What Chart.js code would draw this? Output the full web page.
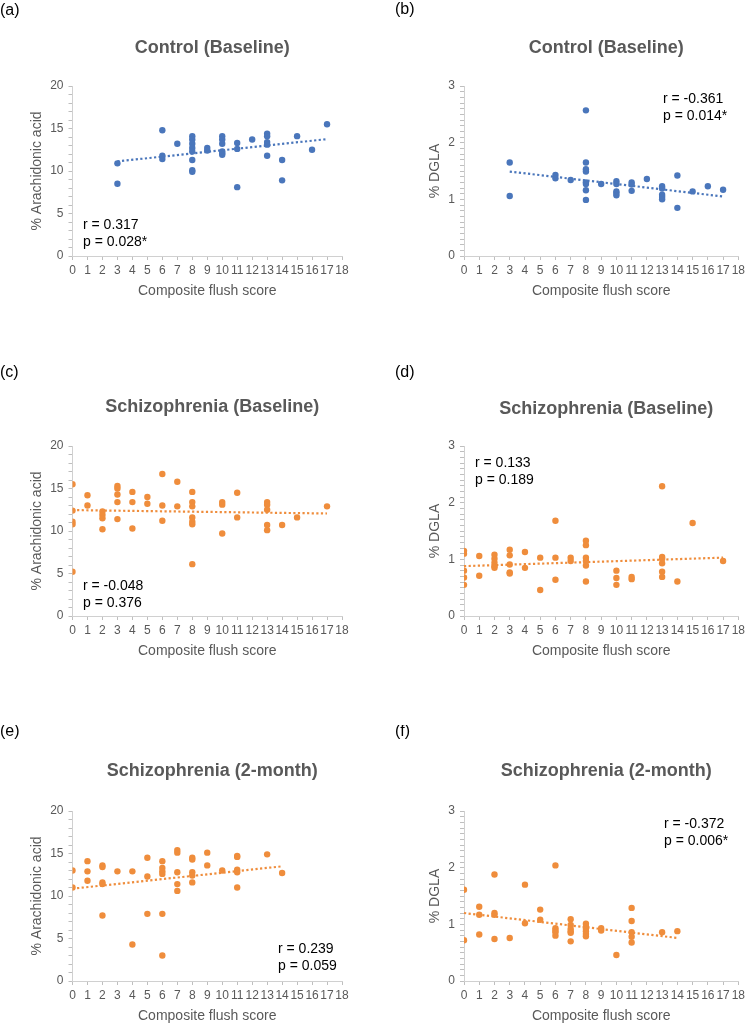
<!DOCTYPE html>
<html>
<head>
<meta charset="utf-8">
<script src="https://cdn.jsdelivr.net/npm/chart.js@4.4.1/dist/chart.umd.min.js"></script>
<style>
  html, body { margin: 0; padding: 0; background: #fff; overflow: hidden; }
  #wrap { position: relative; width: 748px; height: 1025px; }
  canvas { position: absolute; }
</style>
</head>
<body>
<div id="wrap">
  <canvas id="chartA" width="374" height="320" style="left:0;top:0"></canvas>
  <canvas id="chartB" width="374" height="320" style="left:374px;top:0"></canvas>
  <canvas id="chartC" width="374" height="320" style="left:0;top:360px"></canvas>
  <canvas id="chartD" width="374" height="320" style="left:374px;top:360px"></canvas>
  <canvas id="chartE" width="374" height="320" style="left:0;top:725px"></canvas>
  <canvas id="chartF" width="374" height="320" style="left:374px;top:725px"></canvas>
</div>
<script>
// (a) Control baseline, arachidonic acid
const aScore = [3,3,6,6,6,7,8,8,8,8,8,8,8,8,9,9,10,10,10,10,10,10,11,11,11,12,13,13,13,13,13,14,14,15,16,17];
const aValue = [10.9,8.5,14.8,11.8,11.4,13.2,14.1,13.7,13.2,12.7,12.3,11.3,10.1,9.9,12.7,12.4,14.1,13.7,13.2,12.3,12.1,11.9,13.3,12.6,8.1,13.7,14.4,14.1,13.4,13.1,11.8,11.3,8.9,14.1,12.5,15.5];
const aTrendX = [3, 17];
const aTrendY = [11.13, 13.75];

// (b) Control baseline, DGLA
const bScore = [3,3,6,6,7,8,8,8,8,8,8,8,8,9,10,10,10,10,10,11,11,11,12,13,13,13,13,13,14,14,15,16,17];
const bValue = [1.65,1.06,1.43,1.37,1.34,2.57,1.65,1.53,1.49,1.30,1.27,1.16,0.99,1.27,1.32,1.27,1.14,1.11,1.07,1.30,1.26,1.15,1.36,1.23,1.19,1.08,1.04,1.00,1.42,0.85,1.14,1.23,1.17];
const bTrendX = [3, 17];
const bTrendY = [1.49, 1.05];

// (c) Schizophrenia baseline, arachidonic acid
const cScore = [0,0,0,0,0,1,1,2,2,2,2,3,3,3,3,3,4,4,4,5,5,6,6,6,7,7,8,8,8,8,8,8,8,10,10,10,11,11,13,13,13,13,13,14,15,17];
const cValue = [15.5,12.4,11.1,10.8,5.2,14.2,13.0,12.3,11.9,11.5,10.2,15.3,15.0,14.3,13.4,11.4,14.6,13.4,10.3,14.0,13.2,16.7,13.0,11.2,15.8,12.9,14.6,13.4,12.9,11.6,11.1,10.8,6.1,13.4,13.1,9.7,14.5,11.6,13.4,13.1,12.5,10.7,10.1,10.7,11.6,12.9];
const cTrendX = [0, 17];
const cTrendY = [12.46, 12.06];

// (d) Schizophrenia baseline, DGLA
const dScore = [0,0,0,0,0,1,1,2,2,2,2,2,3,3,3,3,3,4,4,5,5,6,6,6,7,7,8,8,8,8,8,8,10,10,10,11,11,13,13,13,13,13,13,14,15,17];
const dValue = [1.15,1.10,0.80,0.68,0.55,1.06,0.71,1.08,1.01,0.94,0.88,0.85,1.17,1.07,0.91,0.77,0.75,1.13,0.85,1.03,0.46,1.68,1.03,0.64,1.03,0.97,1.33,1.25,1.03,0.97,0.89,0.61,0.80,0.67,0.55,0.69,0.65,2.29,1.04,1.01,0.93,0.78,0.69,0.61,1.64,0.97];
const dTrendX = [0, 17];
const dTrendY = [0.88, 1.03];

// (e) Schizophrenia 2-month, arachidonic acid
const eScore = [0,0,1,1,1,2,2,2,2,2,3,4,4,5,5,5,6,6,6,6,6,6,7,7,7,7,7,8,8,8,8,8,9,9,10,11,11,11,11,11,13,14];
const eValue = [13.0,11.0,14.1,12.9,11.8,13.6,13.4,11.6,11.4,7.7,12.9,12.9,4.3,14.5,12.3,7.9,14.1,13.3,12.9,12.6,7.9,3.0,15.4,15.1,12.8,11.4,10.6,14.5,14.3,12.8,12.4,11.6,15.1,13.6,13.0,14.7,14.6,13.1,12.8,11.0,14.9,12.7];
const eTrendX = [0, 14];
const eTrendY = [10.86, 13.49];

// (f) Schizophrenia 2-month, DGLA
const fScore = [0,0,1,1,1,2,2,2,2,3,4,4,5,5,6,6,6,6,6,7,7,7,7,7,7,8,8,8,8,8,8,9,9,10,11,11,11,11,11,13,14];
const fValue = [1.61,0.72,1.31,1.17,0.82,1.88,1.20,1.17,0.74,0.76,1.70,1.02,1.26,1.08,2.04,0.93,0.89,0.86,0.80,1.09,0.99,0.92,0.88,0.85,0.70,1.01,0.96,0.92,0.88,0.83,0.79,0.93,0.89,0.46,1.29,1.06,0.86,0.78,0.68,0.86,0.88];
const fTrendX = [0, 14];
const fTrendY = [1.20, 0.76];

const BLUE = "#4a76bb";
const ORANGE = "#ef8d3c";
const GREY = "#595959";
const AXIS = "#bfbfbf";
const FONT = "'Liberation Sans', Arial, sans-serif";

// draws panel letter, chart heading and the r / p text box
const textPlugin = {
  id: "panelText",
  afterDraw(chart, args, opts) {
    const ctx = chart.ctx;
    const area = chart.chartArea;
    ctx.save();
    ctx.textBaseline = "middle";
    ctx.fillStyle = "#000";
    ctx.font = "16px " + FONT;
    ctx.textAlign = "left";
    ctx.fillText(opts.letter, opts.letterX, opts.letterY);

    ctx.fillStyle = GREY;
    ctx.font = "bold 18px " + FONT;
    ctx.textAlign = "center";
    ctx.fillText(opts.heading, (area.left + area.right) / 2 + 5, opts.headingY);

    ctx.fillStyle = "#000";
    ctx.font = "14px " + FONT;
    ctx.textAlign = "left";
    opts.stats.forEach((line, i) => {
      ctx.fillText(line, opts.statsX, opts.statsY + i * 17);
    });
    ctx.restore();
  },
};

function points(xs, ys) {
  return xs.map((x, i) => ({ x: x, y: ys[i] }));
}

function makePanel(id, p) {
  const right = p.side === "right";
  const dgla = p.yMax === 3;
  return new Chart(document.getElementById(id), {
    type: "scatter",
    data: {
      datasets: [
        {
          data: points(p.xs, p.ys),
          backgroundColor: p.color,
          borderWidth: 0,
          pointRadius: 3.2,
        },
        {
          data: points(p.tx, p.ty),
          showLine: true,
          borderColor: p.color,
          borderWidth: 2.2,
          borderDash: [2.2, 2.4],
          pointRadius: 0,
          fill: false,
        },
      ],
    },
    options: {
      responsive: false,
      animation: false,
      layout: { padding: { top: 86, left: 0, right: right ? 7 : 32, bottom: 20 } },
      plugins: {
        legend: { display: false },
        tooltip: { enabled: false },
        panelText: {
          letter: p.letter,
          letterX: p.letterX,
          letterY: p.letterY,
          heading: p.heading,
          headingY: p.headingY,
          stats: p.stats,
          statsX: p.statsX,
          statsY: p.statsY,
        },
      },
      scales: {
        x: {
          type: "linear",
          min: 0,
          max: 18,
          ticks: {
            stepSize: 1,
            autoSkip: false,
            maxRotation: 0,
            minRotation: 0,
            padding: 3,
            color: GREY,
            font: { size: 12, family: FONT },
          },
          grid: { drawOnChartArea: false, tickLength: 4, color: AXIS, lineWidth: 1 },
          border: { color: "#d0d0d0" },
          title: {
            display: true,
            text: "Composite flush score",
            color: GREY,
            font: { size: 14, family: FONT },
            padding: { top: 0, bottom: 0 },
          },
          afterFit: (s) => { s.height = 44; },
        },
        y: {
          min: 0,
          max: p.yMax,
          ticks: {
            stepSize: dgla ? 0.1 : 1,
            autoSkip: false,
            padding: 5,
            color: GREY,
            font: { size: 12, family: FONT },
            callback: (v) => {
              if (dgla) return Math.abs(v - Math.round(v)) < 1e-6 ? Math.round(v) : "";
              return v % 5 === 0 ? v : "";
            },
          },
          grid: { drawOnChartArea: false, tickLength: 4, color: AXIS, lineWidth: 1 },
          border: { color: "#d0d0d0" },
          title: {
            display: true,
            text: p.yTitle,
            color: GREY,
            font: { size: 14, family: FONT },
            padding: { top: right ? 53 : 29, bottom: 0 },
          },
          afterFit: (s) => { s.width = right ? 90 : 72.5; },
        },
      },
    },
    plugins: [textPlugin],
  });
}

makePanel("chartA", {
  side: "left", color: BLUE, xs: aScore, ys: aValue, tx: aTrendX, ty: aTrendY,
  yMax: 20, yTitle: "% Arachidonic acid",
  letter: "(a)", letterX: 0, letterY: 11, heading: "Control (Baseline)", headingY: 48,
  stats: ["r = 0.317", "p = 0.028*"], statsX: 83, statsY: 225,
});
makePanel("chartB", {
  side: "right", color: BLUE, xs: bScore, ys: bValue, tx: bTrendX, ty: bTrendY,
  yMax: 3, yTitle: "% DGLA",
  letter: "(b)", letterX: 21, letterY: 10, heading: "Control (Baseline)", headingY: 48,
  stats: ["r = -0.361", "p = 0.014*"], statsX: 289, statsY: 99,
});
makePanel("chartC", {
  side: "left", color: ORANGE, xs: cScore, ys: cValue, tx: cTrendX, ty: cTrendY,
  yMax: 20, yTitle: "% Arachidonic acid",
  letter: "(c)", letterX: 0, letterY: 13, heading: "Schizophrenia (Baseline)", headingY: 47,
  stats: ["r = -0.048", "p = 0.376"], statsX: 83, statsY: 226,
});
makePanel("chartD", {
  side: "right", color: ORANGE, xs: dScore, ys: dValue, tx: dTrendX, ty: dTrendY,
  yMax: 3, yTitle: "% DGLA",
  letter: "(d)", letterX: 21, letterY: 13, heading: "Schizophrenia (Baseline)", headingY: 49,
  stats: ["r = 0.133", "p = 0.189"], statsX: 101, statsY: 103,
});
makePanel("chartE", {
  side: "left", color: ORANGE, xs: eScore, ys: eValue, tx: eTrendX, ty: eTrendY,
  yMax: 20, yTitle: "% Arachidonic acid",
  letter: "(e)", letterX: 0, letterY: 7, heading: "Schizophrenia (2-month)", headingY: 46,
  stats: ["r = 0.239", "p = 0.059"], statsX: 278, statsY: 224,
});
makePanel("chartF", {
  side: "right", color: ORANGE, xs: fScore, ys: fValue, tx: fTrendX, ty: fTrendY,
  yMax: 3, yTitle: "% DGLA",
  letter: "(f)", letterX: 21, letterY: 7, heading: "Schizophrenia (2-month)", headingY: 46,
  stats: ["r = -0.372", "p = 0.006*"], statsX: 290, statsY: 99,
});
</script>
</body>
</html>
